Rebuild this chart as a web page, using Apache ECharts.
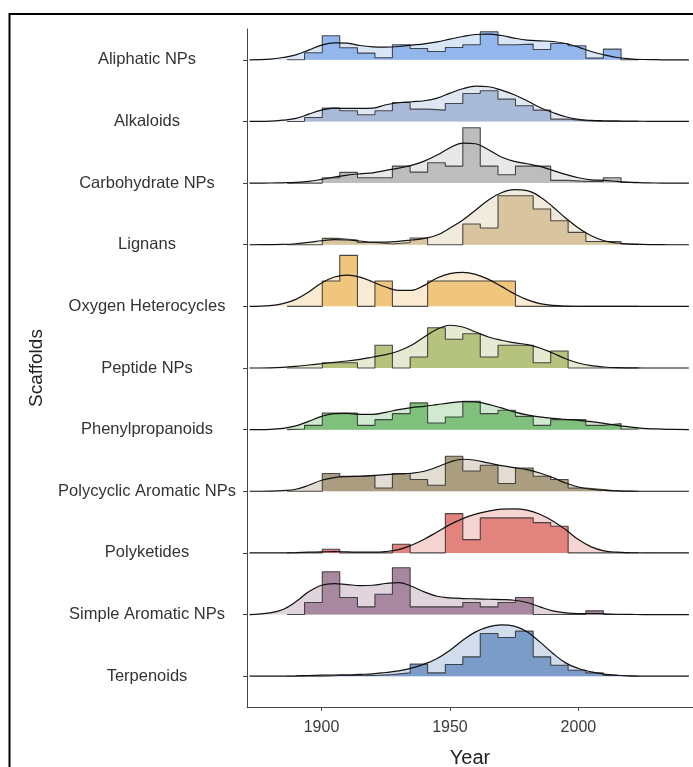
<!DOCTYPE html>
<html><head><meta charset="utf-8">
<script src="https://cdn.jsdelivr.net/npm/echarts@6/dist/echarts.min.js"></script>
<style>html,body{margin:0;padding:0;background:#fff;}#c{width:693px;height:767px;}</style>
</head><body><div id="c"></div>
<script>
// ---- categories / ticks ----
const scaffolds = ["Aliphatic NPs","Alkaloids","Carbohydrate NPs","Lignans","Oxygen Heterocycles","Peptide NPs","Phenylpropanoids","Polycyclic Aromatic NPs","Polyketides","Simple Aromatic NPs","Terpenoids"];
const xTicks = [1900, 1950, 2000];
// histogram bin edges (years), 20 bins
const binEdges = [1886.6,1893.4,1900.3,1907.1,1914.0,1920.8,1927.6,1934.5,1941.3,1948.2,1955.0,1961.8,1968.7,1975.5,1982.4,1989.2,1996.0,2002.9,2009.7,2016.6,2023.4];
// density curve sample years
const densYears = [1872,1880,1885,1890,1895,1900,1905,1910,1915,1920,1925,1930,1935,1940,1945,1950,1955,1960,1965,1970,1975,1980,1985,1990,1995,2000,2005,2010,2015,2020,2025,2030,2035,2043];

// ---- histogram heights per bin (relative units) ----
const histAliphatic   = [0,7,24,12,6.7,2,15,11.3,8.3,12.3,15,28,15,15.7,10.3,16.3,14,1.7,10.7,0];
const histAlkaloids   = [0,4,13.3,10.7,6.7,10.7,19,12.3,11.3,18,28,30.7,22.3,15.7,11.3,2.3,0.7,0,0,0];
const histCarbo       = [0,0,5.3,10.7,5.3,5.3,17,11,20.3,17,55.3,17,8.3,17,17,2.7,1.7,1.7,5.3,0.7];
const histLignans     = [0,0,6.3,4.7,2.3,0.7,2.3,6.7,0,0,20.7,16.7,49,49,35.7,24,12.3,3.3,3.3,0.7];
const histOxygen      = [0,0,25.3,51,0,25.3,0,0,25.3,25.3,25.3,25.3,25.3,0,0,0,0,0,0,0];
const histPeptide     = [0,0,5.3,5.3,0,22.7,0,11,40.3,28.7,34.3,11,22.7,22.7,5.3,17,0,0,0,0];
const histPhenyl      = [0.7,4.3,16.7,16.7,4.3,10,16,26.7,6.7,12.7,28.3,16,19.3,13.3,4.3,10,10,4.3,6,0.7];
const histPolycyclic  = [0,0,17.7,15,16,3.3,17.7,11.7,6,35,20.3,26,7.7,23.3,15,11.7,3.3,1.7,0,0];
const histPolyketides = [0,0,3.7,0,0,0,8.7,0,0,39.3,13.3,35,35,35,30.3,26.7,0,0,0,0];
const histSimpleArom  = [0,12,42.7,17,7.7,20.3,46.7,7.7,7.7,7.7,12,7.7,12,17,0,0,0,3.7,0,0];
const histTerpenoids  = [0,0,0.7,0.7,0.7,1.7,3.3,12,3.3,11.7,19.3,42.7,38.7,45,19.3,11,6,3.3,0.7,0];

// ---- density heights at densYears (relative units) ----
const densAliphatic   = [0,0.7,2.3,5,9.7,14.7,17,16.7,14.3,13,12.7,13.3,14.7,16,18,20.7,23.3,25.3,25.7,24.3,21.7,19.7,19,18.3,16.3,12.7,8.3,5,2.3,1,0.3,0.1,0,0];
const densAlkaloids   = [0,0.3,1.3,3,7.3,11.3,13.3,13,13,13.3,16.7,18.7,19.7,20.7,23.3,28.3,32.7,35.3,34.7,31.3,26.7,20.7,14,9,4.7,2,1,0.7,0.5,0.3,0.2,0.1,0,0];
const densCarbo       = [0,0.1,0.3,0.7,1.7,3.7,6,8,9.3,10.3,12.7,15,17.7,22,28,35.3,40,39.3,33.3,26,21.7,19.3,16.7,12.7,8.7,5.3,3.3,2.7,1.7,0.7,0.3,0.1,0,0];
const densLignans     = [0,0.1,0.3,1,2.3,4,5,4.7,3.7,2.7,2.7,3.3,4.7,6.3,9.7,16.7,24.7,34.7,44.7,52,55,54,48,38,26.7,16.7,9,4,1.7,0.7,0.3,0.1,0,0];
const densOxygen      = [0,0.7,2.7,7,14.3,23.3,29.3,31.3,29.3,24.3,19.3,16,16,21,28.3,32.7,34,32,27,20,12.7,6.7,2.7,1,0.3,0.1,0,0,0,0,0,0,0,0];
const densPeptide     = [0,0.2,0.7,1.7,3,4.3,5.7,7,8.7,11,13.3,17,22.7,31,38.7,42.7,41,36,31,27.7,25.3,23.3,20,15,9.3,5,2.3,1,0.3,0.1,0,0,0,0];
const densPhenyl      = [0,0.3,1.3,3.7,8.3,13.3,16,16.3,15.3,15.3,17.3,20,22,23.3,25,26.7,28,27.7,25.3,21.7,17.7,14.7,12.7,11.3,10.3,9.3,8,6.3,4.3,2.7,1.3,0.7,0.3,0];
const densPolycyclic  = [0,0.2,0.7,2,6,11,13.7,14.7,15,15.7,16.7,17.3,18,20,24.3,29.3,32,31,28.3,25.7,23.7,21.7,18.3,13.7,8.3,4.3,2,1,0.3,0.1,0,0,0,0];
const densPolyketides = [0,0,0,0.3,0.7,1,1.3,1,0.7,0.7,1.3,3.3,7.7,13.7,21,28.3,34.3,38.7,41.7,43.7,44,42.7,38.7,32,23.3,13.3,6,2,0.7,0.3,0.1,0,0,0];
const densSimpleArom  = [0,1.7,5,12.7,22.7,29.3,31,30,29,29.3,31,32,28.3,22.7,18.3,16.7,16,15.7,15.3,15,14.3,12,7.7,3.7,1.7,1,1,0.7,0.3,0.1,0,0,0,0];
const densTerpenoids  = [0,0,0,0.3,0.7,1,1.2,1.3,1.8,2.3,3.7,5.3,8,12,17.7,26,36,44.3,49.3,51.3,50,44.3,34.3,23,13.3,7.7,4.3,2,1,0.3,0.1,0,0,0];

const histAll = [histAliphatic,histAlkaloids,histCarbo,histLignans,histOxygen,histPeptide,histPhenyl,histPolycyclic,histPolyketides,histSimpleArom,histTerpenoids];
const densAll = [densAliphatic,densAlkaloids,densCarbo,densLignans,densOxygen,densPeptide,densPhenyl,densPolycyclic,densPolyketides,densSimpleArom,densTerpenoids];
const colors = ["#93b7ec","#a9bad9","#bdbdbd","#d8c59f","#f0c67e","#b6c37f","#7fc07c","#ab9d80","#e2837e","#a7889f","#7b9bc9"];

const UNIT = 61.6; // relative units per row spacing
const nRows = scaffolds.length;
const series = [];
scaffolds.forEach((name, r) => {
  const base = nRows - 0.5 - r;
  const dens = densYears.map((y, i) => [y, base + densAll[r][i] / UNIT]);
  const h = histAll[r];
  const hist = [[binEdges[0], base]];
  for (let i = 0; i < h.length; i++) hist.push([binEdges[i], base + h[i] / UNIT]);
  hist.push([binEdges[h.length], base + h[h.length - 1] / UNIT]);
  hist.push([binEdges[h.length], base]);
  series.push({
    type: 'line', name: name + ' density fill', xAxisIndex: 0, yAxisIndex: 1,
    data: dens, smooth: 0.4, showSymbol: false, silent: true,
    lineStyle: { width: 0 },
    areaStyle: { origin: base, color: colors[r], opacity: 0.35 }
  });
  series.push({
    type: 'line', name: name + ' histogram', xAxisIndex: 0, yAxisIndex: 1,
    data: hist, step: 'end', showSymbol: false, silent: true,
    lineStyle: { width: 1.1, color: 'rgba(45,45,45,0.85)' },
    areaStyle: { origin: base, color: colors[r], opacity: 1 }
  });
  series.push({
    type: 'line', name: name + ' density', xAxisIndex: 0, yAxisIndex: 1,
    data: dens, smooth: 0.4, showSymbol: false, silent: true,
    lineStyle: { width: 1.2, color: '#111' }
  });
});

const FONT = "'Liberation Sans', Arial, Helvetica, sans-serif";
const chart = echarts.init(document.getElementById('c'), null, { renderer: 'canvas' });
chart.setOption({
  animation: false,
  backgroundColor: '#fff',
  grid: { left: 247, right: 0, top: 29, bottom: 60, containLabel: false, outerBoundsMode: 'none' },
  xAxis: [{
    type: 'value', min: 1871, max: 2044.6,
    name: 'Year', nameLocation: 'middle', nameGap: 41,
    nameTextStyle: { fontSize: 20, color: '#222', fontFamily: FONT },
    axisLine: { show: true, onZero: false, lineStyle: { color: '#444', width: 1 } },
    axisTick: { show: true, length: 4, customValues: xTicks, lineStyle: { color: '#444' } },
    axisLabel: { customValues: xTicks, formatter: v => String(v), margin: 13, fontSize: 16, color: '#3a3a3a', fontFamily: FONT },
    splitLine: { show: false }
  }],
  yAxis: [{
    type: 'category', data: scaffolds, inverse: true, position: 'left',
    name: 'Scaffolds', nameLocation: 'middle', nameGap: 201, nameRotate: 90,
    nameTextStyle: { fontSize: 19, color: '#222', fontFamily: FONT },
    axisLine: { show: true, lineStyle: { color: '#444', width: 1 } },
    axisTick: { show: true, alignWithLabel: true, length: 4, lineStyle: { color: '#444' } },
    axisLabel: { margin: 100, align: 'center', fontSize: 16.5, color: '#333', fontFamily: FONT },
    splitLine: { show: false }
  }, {
    type: 'value', min: 0, max: nRows, show: false, splitLine: { show: false }
  }],
  graphic: [{
    type: 'rect', silent: true, z: 100,
    shape: { x: 9.5, y: 14, width: 720, height: 780 },
    style: { fill: 'none', stroke: '#000', lineWidth: 2 }
  }],
  series: series
});
</script>
</body></html>
